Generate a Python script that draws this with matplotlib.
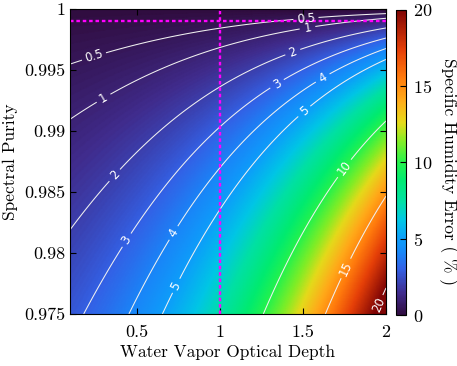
import numpy as np
import matplotlib
matplotlib.use("Agg")
import matplotlib.pyplot as plt
from matplotlib.colors import LinearSegmentedColormap

plt.rcParams['font.family'] = ['cmr10', 'DejaVu Serif']
plt.rcParams['mathtext.fontset'] = 'cm'
plt.rcParams['axes.formatter.use_mathtext'] = True

# axis ranges and samples (one-way water vapor optical depth, spectral purity)
optical_depth = np.linspace(0.1, 2.0, 400)
spectral_purity = np.linspace(0.975, 1.0, 400)
contour_levels = [0.5, 1, 2, 3, 4, 5, 10, 15, 20]
x_ticks = [0.5, 1, 1.5, 2]
x_ticklabels = ['0.5', '1', '1.5', '2']
y_ticks = [0.975, 0.98, 0.985, 0.99, 0.995, 1.0]
y_ticklabels = ['0.975', '0.98', '0.985', '0.99', '0.995', '1']
cbar_ticks = [0, 5, 10, 15, 20]
ref_depth = 1.0
ref_purity = 0.999

# DIAL model: impure spectrum adds unattenuated fraction (1-p) to round-trip transmission
T, P = np.meshgrid(optical_depth, spectral_purity)
true_od = 2 * T
meas_od = -np.log(P * np.exp(-true_od) + (1 - P))
error_pct = (true_od - meas_od) / true_od * 100

cmap = LinearSegmentedColormap.from_list('ref', [
    (0.00, (0.19, 0.05, 0.25)),
    (0.07, (0.25, 0.17, 0.55)),
    (0.15, (0.20, 0.38, 0.90)),
    (0.20, (0.10, 0.52, 0.97)),
    (0.25, (0.05, 0.62, 0.98)),
    (0.31, (0.00, 0.78, 0.90)),
    (0.37, (0.00, 0.88, 0.65)),
    (0.44, (0.00, 0.92, 0.45)),
    (0.50, (0.15, 0.95, 0.30)),
    (0.57, (0.52, 0.93, 0.15)),
    (0.63, (0.90, 0.86, 0.10)),
    (0.70, (1.00, 0.68, 0.10)),
    (0.78, (1.00, 0.48, 0.05)),
    (0.87, (0.90, 0.25, 0.03)),
    (1.00, (0.50, 0.02, 0.02)),
])

fig = plt.figure(figsize=(4.57, 3.66), dpi=100)
ax = fig.add_axes([70/457, 1-314/366, 316/457, 305/366])
cax = fig.add_axes([396/457, 1-315/366, 10/457, 305/366])

mesh = ax.pcolormesh(T, P, error_pct, cmap=cmap, vmin=0, vmax=20,
                     shading='gouraud', rasterized=True)
cs = ax.contour(T, P, error_pct, levels=contour_levels, colors='#f0f0f0',
                linewidths=0.75)

def px2data(px, py):
    return (0.5 + (px - 138) / 166.0, 1 - (py - 9) / 61.0 * 0.005)

label_px = [(96, 58), (307, 17), (105, 98), (309, 30), (117, 176), (295, 55),
            (128, 240), (279, 85), (175, 233), (325, 80), (178, 286), (306, 112),
            (345, 168), (346, 268), (377, 304)]
manual = [px2data(*p) for p in label_px]
labels = ax.clabel(cs, inline=True, fontsize=8.5, colors='white',
                   fmt=lambda v: ('%g' % v), manual=manual)
for t in labels:
    t.set_fontfamily('DejaVu Sans')

ax.axvline(ref_depth, color='#ff00ff', ls=(0, (1.5, 1.2)), lw=1.7)
ax.axhline(ref_purity, color='#ff00ff', ls=(0, (1.5, 1.2)), lw=1.7)

ax.set_xlim(0.1, 2.0)
ax.set_ylim(0.975, 1.0)
ax.set_xticks(x_ticks)
ax.set_xticklabels(x_ticklabels)
ax.set_yticks(y_ticks)
ax.set_yticklabels(y_ticklabels)
ax.tick_params(direction='in', top=True, right=True, labelsize=13, length=4,
               width=0.8)
ax.tick_params(axis='x', pad=8)
ax.set_xlabel('Water Vapor Optical Depth', fontsize=12.5, labelpad=3)
ax.set_ylabel('Spectral Purity', fontsize=12.5, labelpad=4)

cb = fig.colorbar(mesh, cax=cax, ticks=cbar_ticks)
cb.ax.tick_params(labelsize=13, direction='in', length=4, width=0.8, pad=5)
cb.outline.set_linewidth(0.8)
cb.set_label('Specific Humidity Error ( % )', rotation=270, fontsize=12.5,
             labelpad=16)
cb.ax.yaxis.set_label_coords(6.2, 0.47)

fig.savefig('out.png', dpi=100)
